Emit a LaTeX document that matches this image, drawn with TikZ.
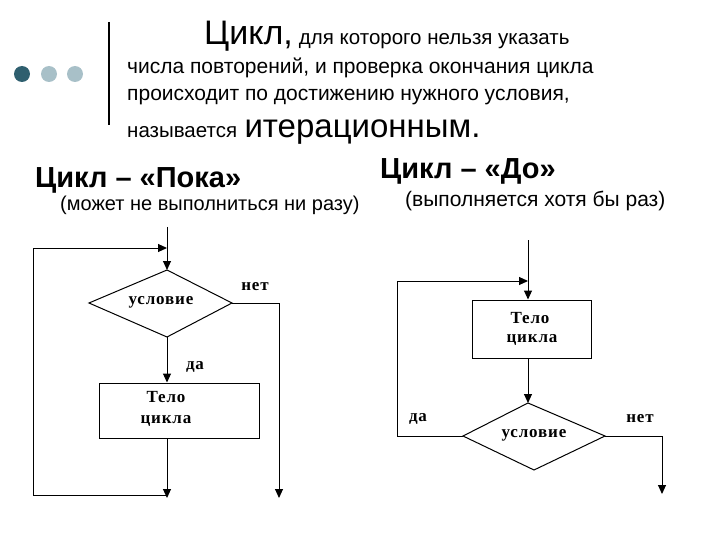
\documentclass[tikz,border=0pt]{standalone}
\usepackage{fontspec}
\setmainfont{Liberation Sans}
\newfontfamily\serifb{Liberation Serif}[LetterSpace=5]
\usetikzlibrary{arrows.meta}
\begin{document}
\begin{tikzpicture}[x=1pt,y=-1pt,
  ln/.style={line width=1pt},
  ar/.style={ln,-{Triangle[length=9pt,width=8pt]}},
  fl/.style={font=\serifb\bfseries\fontsize{17}{19}\selectfont}]
\useasboundingbox (0,0) rectangle (720,540);
\definecolor{dk}{HTML}{2F5F6F}\definecolor{lt}{HTML}{A8C0C8}
\fill[dk] (22,74) circle (8); \fill[lt] (49,74) circle (8); \fill[lt] (75,74) circle (8);
\draw[line width=1.5pt] (109,22) -- (109,125);
\node[anchor=base west,inner sep=0,font=\fontsize{34}{36}\selectfont] (t1) at (204,45) {Цикл,};
\node[anchor=base west,inner sep=0,font=\fontsize{20.5}{22}\selectfont] (t2) at (t1.base east) {\ для которого нельзя указать};
\node[anchor=base west,inner sep=0,font=\fontsize{21}{23}\selectfont] (t3) at (127,74) {числа повторений, и проверка окончания цикла};
\node[anchor=base west,inner sep=0,font=\fontsize{21}{23}\selectfont] (t4) at (127,101) {происходит по достижению нужного условия,};
\node[anchor=base west,inner sep=0,font=\fontsize{20.5}{22}\selectfont] (t5) at (127,138) {называется};
\node[anchor=base west,inner sep=0,font=\fontsize{33}{35}\selectfont] (t6) at ([xshift=7pt]t5.base east) {итерационным.};
\node[anchor=base west,inner sep=0,font=\bfseries\fontsize{29}{31}\selectfont] (h1) at (35,188) {Цикл – «Пока»};
\node[anchor=base west,inner sep=0,font=\fontsize{20}{22}\selectfont] (s1) at (60,211) {(может не выполниться ни разу)};
\node[anchor=base west,inner sep=0,font=\bfseries\fontsize{29}{31}\selectfont] (h2) at (380,179) {Цикл – «До»};
\node[anchor=base west,inner sep=0,font=\fontsize{21}{23}\selectfont] (s2) at (405,207) {(выполняется хотя бы раз)};
% left chart
\coordinate (a0) at (167,227); \coordinate (aj) at (167,248);
\coordinate (dt) at (167,270); \coordinate (dl) at (89,303); \coordinate (db) at (167,337); \coordinate (dr) at (232,303);
\draw[ln] (dt) -- (dr) -- (db) -- (dl) -- cycle;
\node[fl] (cond1) at (161,302) {условие};
\node[draw,ln,minimum width=160pt,minimum height=55pt] (b1) at (179,410.5) {};
\node[fl] (b1t) at (166,397) {Тело}; \node[fl] (b1c) at (166,421) {цикла};
\draw[ar] (a0) -- (dt);
\coordinate (L1) at (33,495); \coordinate (L2) at (33,248);
\draw[ar] (L1) -- (L2) -- (aj);
\draw[ar] (db) -- (b1.north -| db);
\coordinate (bo1) at (167,498);
\draw[ar] (b1.south -| db) -- (bo1);
\draw[ln] (L1) -- (167,495);
\coordinate (r1) at (279,303); \coordinate (r2) at (279,498);
\draw[ar] (dr) -- (r1) -- (r2);
\node[fl] (net1) at (255,287) {нет};
\node[fl] (da1) at (195,367) {да};
% right chart
\coordinate (c0) at (528,240); \coordinate (cj) at (528,281);
\node[draw,ln,minimum width=119pt,minimum height=58pt] (b2) at (531.5,329) {};
\node[fl] (b2t) at (530,318) {Тело}; \node[fl] (b2c) at (532,340) {цикла};
\draw[ar] (c0) -- (b2.north -| c0);
\coordinate (et) at (528,403); \coordinate (el) at (463,436); \coordinate (eb) at (534,470); \coordinate (er) at (605,436);
\draw[ln] (et) -- (er) -- (eb) -- (el) -- cycle;
\node[fl] (cond2) at (534,435) {условие};
\draw[ar] (b2.south -| c0) -- (et);
\coordinate (M1) at (397,436); \coordinate (M2) at (397,281);
\draw[ar] (el) -- (M1) -- (M2) -- (cj);
\coordinate (q1) at (662,436); \coordinate (q2) at (662,494);
\draw[ar] (er) -- (q1) -- (q2);
\node[fl] (da2) at (418,419) {да};
\node[fl] (net2) at (640,419) {нет};
\end{tikzpicture}
\end{document}
